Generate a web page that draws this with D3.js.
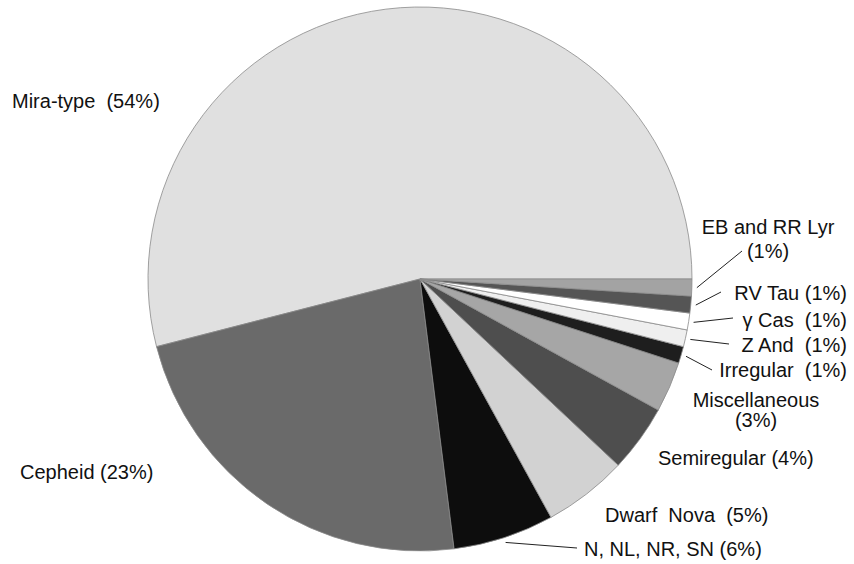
<!DOCTYPE html>
<html lang="en">
<head>
<meta charset="UTF-8">
<title>Variable star types</title>
<script src="https://d3js.org/d3.v7.min.js"></script>
<style>
    body { margin: 0; background: #fff; }
    .label { font-family: "Liberation Sans", Arial, sans-serif; font-size: 20px; fill: #111; }
    .leader { stroke: #222; stroke-width: 1px; fill: none; }
</style>
</head>
<body>
<svg id="svg" width="854" height="564"></svg>
<script>
    // Data
    const types = ["Mira-type", "Cepheid", "N, NL, NR, SN", "Dwarf Nova", "Semiregular",
        "Miscellaneous", "Irregular", "Z And", "\u03b3 Cas", "RV Tau", "EB and RR Lyr"];
    const percents = [54, 23, 6, 5, 4, 3, 1, 1, 1, 1, 1];
    const fills = ["#e0e0e0", "#6a6a6a", "#0d0d0d", "#d2d2d2", "#4e4e4e",
        "#a6a6a6", "#1e1e1e", "#efefef", "#ffffff", "#555555", "#a3a3a3"];

    // label placement: lines of text, anchor x, first baseline y, line step, optional leader end
    const labelLayout = [
        { lines: ["Mira-type  (54%)"], x: 12, y: 108, anchor: "start" },
        { lines: ["Cepheid (23%)"], x: 20, y: 479, anchor: "start" },
        { lines: ["N, NL, NR, SN (6%)"], x: 584, y: 556, anchor: "start", leader: [577, 548] },
        { lines: ["Dwarf  Nova  (5%)"], x: 605, y: 522, anchor: "start" },
        { lines: ["Semiregular (4%)"], x: 658, y: 465, anchor: "start" },
        { lines: ["Miscellaneous", "(3%)"], x: 756, y: 407, step: 20, anchor: "middle" },
        { lines: ["Irregular  (1%)"], x: 847, y: 377, anchor: "end", leader: [712, 370] },
        { lines: ["Z And  (1%)"], x: 847, y: 352, anchor: "end", leader: [729, 344] },
        { lines: ["\u03b3 Cas  (1%)"], x: 847, y: 327, anchor: "end", leader: [733, 318] },
        { lines: ["RV Tau (1%)"], x: 847, y: 300, anchor: "end", leader: [721, 292] },
        { lines: ["EB and RR Lyr", "(1%)"], x: 768, y: 234, step: 24, anchor: "middle", leader: [742, 251] }
    ];

    const svg = d3.select("#svg");
    const cx = 420, cy = 279, radius = 272;

    const slices = types.map((t, i) => ({ type: t, value: percents[i], fill: fills[i], layout: labelLayout[i] }));

    // start at 3 o'clock and go counter-clockwise
    const pie = d3.pie()
        .sort(null)
        .value(d => d.value)
        .startAngle(Math.PI / 2)
        .endAngle(Math.PI / 2 - 2 * Math.PI);

    const arc = d3.arc().innerRadius(0).outerRadius(radius);

    const g = svg.append("g").attr("transform", `translate(${cx},${cy})`);

    g.selectAll("path")
        .data(pie(slices))
        .enter().append("path")
        .attr("d", arc)
        .attr("fill", d => d.data.fill)
        .attr("stroke", "#8a8a8a")
        .attr("stroke-width", 0.8);

    // leader lines from just outside the rim
    const rimArc = d3.arc().innerRadius(radius + 5).outerRadius(radius + 5);
    svg.selectAll(".leader")
        .data(pie(slices).filter(d => d.data.layout.leader))
        .enter().append("line")
        .attr("class", "leader")
        .attr("x1", d => cx + rimArc.centroid(d)[0])
        .attr("y1", d => cy + rimArc.centroid(d)[1])
        .attr("x2", d => d.data.layout.leader[0])
        .attr("y2", d => d.data.layout.leader[1]);

    // labels
    slices.forEach(s => {
        const L = s.layout;
        const t = svg.append("text")
            .attr("class", "label")
            .attr("text-anchor", L.anchor)
            .attr("x", L.x)
            .attr("y", L.y);
        L.lines.forEach((line, i) => {
            t.append("tspan")
                .attr("x", L.x)
                .attr("dy", i === 0 ? 0 : L.step)
                .style("white-space", "pre")
                .text(line);
        });
    });
</script>
</body>
</html>
